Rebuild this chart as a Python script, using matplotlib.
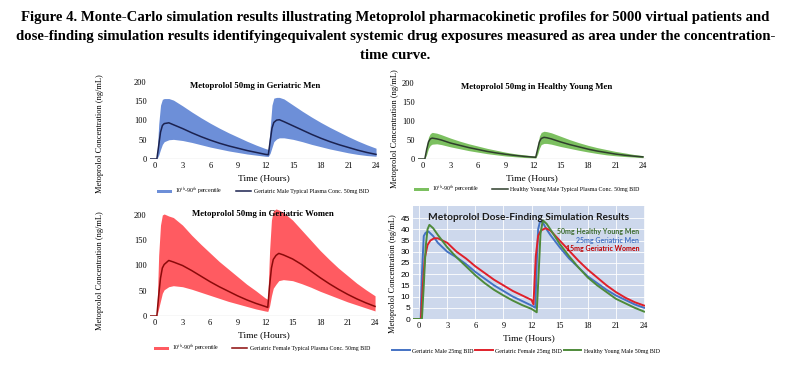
import numpy as np
import matplotlib
matplotlib.use("Agg")
import matplotlib.pyplot as plt

W, H = 791, 374

# shared time grid for the three percentile panels (hours)
t_pk = [-0.6, 0.2, 0.4, 0.6, 0.8, 1.0, 1.5, 2, 3, 4, 5, 6, 7, 8, 9, 10, 11, 12,
        12.3, 12.5, 12.7, 12.9, 13.2, 13.5, 14, 15, 16, 17, 18, 19, 20, 21, 22, 23, 24]

# geriatric men, 50mg
gm_med = [0, 0, 35, 70, 87, 92, 94, 89, 79, 68, 58, 49, 41, 34, 28, 22, 17, 12,
          11, 45, 80, 95, 101, 102, 97, 86, 75, 64, 54, 45, 37, 30, 23, 17, 12]
gm_p90 = [0, 0, 90, 140, 155, 157, 157, 153, 138, 122, 107, 93, 80, 68, 57, 46, 36, 27,
          25, 80, 140, 158, 160, 160, 156, 140, 124, 109, 95, 82, 70, 58, 47, 37, 28]
gm_p10 = [0, 0, 10, 25, 38, 45, 50, 51, 48, 43, 37, 31, 26, 21, 17, 13, 10, 7,
          6.5, 15, 30, 45, 52, 55, 55, 51, 45, 38, 32, 26, 21, 16, 12, 9, 7]

# geriatric women, 50mg
gw_med = [0, 0, 40, 75, 95, 102, 110, 107, 100, 90, 79, 68, 58, 49, 40, 32, 25, 19,
          17, 60, 95, 112, 120, 124, 121, 113, 102, 89, 76, 64, 53, 43, 34, 26, 19]
gw_p90 = [0, 0, 120, 180, 200, 202, 198, 195, 180, 160, 142, 125, 108, 93, 78, 63, 50, 36,
          33, 130, 190, 208, 212, 210, 205, 190, 170, 150, 130, 112, 95, 80, 65, 52, 40]
gw_p10 = [0, 0, 15, 30, 45, 52, 58, 60, 58, 53, 47, 41, 35, 29, 24, 19, 14, 10,
          9, 20, 40, 55, 63, 70, 72, 70, 64, 57, 49, 42, 35, 28, 22, 16, 10]

# healthy young men, 50mg
hy_med = [0, 0, 25, 45, 53, 55, 53, 50, 42, 36, 30, 25, 20, 16, 12.5, 9.5, 7, 5,
          4.5, 25, 45, 54, 57, 56, 53, 45, 38, 32, 26, 21, 17, 13, 10, 7.5, 5.5]
hy_p90 = [0, 0, 35, 58, 67, 70, 68, 64, 55, 47, 40, 34, 28, 23, 18, 14, 11, 8.5,
          8, 35, 60, 70, 73, 72, 69, 60, 51, 43, 36, 30, 25, 20, 16, 12, 9]
hy_p10 = [0, 0, 12, 28, 36, 39, 40, 38, 32, 27, 22, 18, 14, 11, 8, 6, 4, 3,
          2.5, 12, 28, 38, 41, 41, 39, 33, 28, 23, 18.5, 14.5, 11, 8.5, 6.5, 5, 3.5]

# dose-finding typical profiles
t_gm25 = [-0.65, 0.15, 0.3, 0.5, 0.7, 1.0, 1.5, 2, 3, 4, 5, 6, 7, 8, 9, 10, 11, 12,
          12.4, 12.55, 12.7, 12.9, 13.2, 13.6, 14, 15, 16, 17, 18, 19, 20, 21, 22, 23, 24]
gm25 = [0, 0, 20, 37, 38.5, 39, 37, 34, 30, 27.5, 24.5, 21, 18, 15, 12.5, 10, 8, 6,
        5, 25, 40, 43.5, 43, 40, 37.5, 32, 27, 23, 19, 16, 13, 10.5, 8.5, 6.5, 5]
t_gw15 = [-0.65, 0.2, 0.4, 0.6, 0.9, 1.2, 1.6, 2, 3, 4, 5, 6, 7, 8, 9, 10, 11, 12,
          12.2, 12.45, 12.7, 13.0, 13.5, 14, 15, 16, 17, 18, 19, 20, 21, 22, 23, 24]
gw15 = [0, 0, 15, 27, 33, 35, 36, 36, 34, 30, 27, 23.5, 20.5, 17.5, 15, 12.5, 10.5, 8.5,
        6.5, 28, 37, 39.5, 40.5, 39.5, 35, 30.5, 26, 22, 18.5, 15, 12, 9.5, 7.5, 6]
t_hy50 = [-0.65, 0.3, 0.5, 0.7, 0.9, 1.1, 1.5, 2, 3, 4, 5, 6, 7, 8, 9, 10, 11, 12,
          12.55, 12.75, 12.95, 13.2, 13.6, 14, 15, 16, 17, 18, 19, 20, 21, 22, 23, 24]
hy50 = [0, 0, 15, 32, 40, 42, 40.5, 37.5, 32, 27.5, 23.5, 19.5, 16, 13, 10.5, 8.2, 6.2, 4.5,
        3, 20, 38, 44, 42.5, 40, 33.5, 28, 23, 18.5, 15, 12, 9, 7, 5, 3.3]

x_ticks = [0, 3, 6, 9, 12, 15, 18, 21, 24]

title_lines = [
    "Figure 4. Monte-Carlo simulation results illustrating Metoprolol pharmacokinetic profiles for 5000 virtual patients and",
    "dose-finding simulation results identifyingequivalent systemic drug exposures measured as area under the concentration-",
    "time curve.",
]

plt.rcParams['mathtext.fontset'] = 'stix'
SERIF = 'Liberation Serif'
YLAB = "Metoprolol Concentration (ng/mL)"


def rect(left, right, top, bottom):
    # pixel box -> figure fraction
    return [left / W, 1 - bottom / H, (right - left) / W, (bottom - top) / H]


fig = plt.figure(figsize=(W / 100, H / 100), dpi=100)
fig.patch.set_facecolor('white')

for i, line in enumerate(title_lines):
    fig.text(0.5, 1 - (17.5 + 19 * i) / H, line, ha='center', va='center',
             fontsize=10.6, fontweight='bold', family=SERIF)


def pk_panel(pos, med, p90, p10, band_col, line_col, title, med_label,
             ylab_xy, legend_xy, title_xy):
    ax = fig.add_axes(pos)
    ax.fill_between(t_pk, p10, p90, color=band_col, lw=0,
                    label="10$^{th}$-90$^{th}$ percentile")
    ax.plot(t_pk, med, color=line_col, lw=1.1, label=med_label)
    ax.axhline(0, color='#d9d9d9', lw=1.0, zorder=0)
    ax.set_xlim(-0.6, 24.3)
    ax.set_ylim(0, 215)
    ax.set_yticks([0, 50, 100, 150, 200])
    ax.set_xticks(x_ticks)
    for s in ax.spines.values():
        s.set_visible(False)
    ax.tick_params(length=0, labelsize=6, pad=2)
    for lab in ax.get_xticklabels() + ax.get_yticklabels():
        lab.set_family(SERIF)
    ax.set_xlabel("Time (Hours)", fontsize=6.8, family=SERIF, labelpad=3)
    fig.text(ylab_xy[0] / W, 1 - ylab_xy[1] / H, YLAB, rotation=90,
             ha='center', va='center', fontsize=6, family=SERIF)
    fig.text(title_xy[0] / W, 1 - title_xy[1] / H, title, ha='center', va='center',
             fontsize=6.3, fontweight='bold', family=SERIF)
    ax.legend(loc='center', bbox_to_anchor=(legend_xy[0] / W, 1 - legend_xy[1] / H),
              bbox_transform=fig.transFigure, ncol=2, frameon=False,
              prop={'family': SERIF, 'size': 4.2}, handlelength=2.6,
              handleheight=0.6, columnspacing=2.2, handletextpad=0.5)
    return ax


pk_panel(rect(149.5, 378.8, 159 - 215 * 0.385, 159), gm_med, gm_p90, gm_p10,
         '#6d8fd8', '#1b2250', "Metoprolol 50mg in Geriatric Men",
         "Geriatric Male Typical Plasma Conc. 50mg BID", (100, 134), (263, 191), (255, 86))
pk_panel(rect(149.5, 377.8, 316 - 215 * 0.505, 316), gw_med, gw_p90, gw_p10,
         '#ff5b61', '#8b0a0a', "Metoprolol 50mg in Geriatric Women",
         "Geriatric Female Typical Plasma Conc. 50mg BID", (100, 271), (262, 348), (263, 214))
pk_panel(rect(417.5, 645.7, 159 - 215 * 0.38, 159), hy_med, hy_p90, hy_p10,
         '#7cc060', '#2f3e2c', "Metoprolol 50mg in Healthy Young Men",
         "Healthy Young Male Typical Plasma Conc. 50mg BID", (395, 129), (527, 189), (537, 87))

# dose-finding panel
ax = fig.add_axes(rect(413, 645, 206, 319))
ax.set_facecolor('#cdd8ec')
ax.plot(t_gm25, gm25, color='#4472c4', lw=1.4, label="Geriatric Male 25mg BID")
ax.plot(t_gw15, gw15, color='#e0202a', lw=1.4, label="Geriatric Female 25mg BID")
ax.plot(t_hy50, hy50, color='#4e8a3a', lw=1.4, label="Healthy Young Male 50mg BID")
ax.set_xlim(-0.65, 24.1)
ax.set_ylim(0, 50.4)
ax.set_yticks(range(0, 50, 5))
ax.set_xticks(x_ticks)
ax.grid(color='white', lw=0.6)
ax.set_axisbelow(True)
for s in ax.spines.values():
    s.set_visible(False)
ax.tick_params(length=0, labelsize=6, pad=2)
for lab in ax.get_xticklabels():
    lab.set_family(SERIF)
for lab in ax.get_yticklabels():
    lab.set_family('Liberation Sans')
ax.set_xlabel("Time (Hours)", fontsize=6.8, family=SERIF, labelpad=3)
fig.text(393 / W, 1 - 274 / H, YLAB, rotation=90,
         ha='center', va='center', fontsize=6, family=SERIF)
ax.text(0.5, 0.9, "Metoprolol Dose-Finding Simulation Results", transform=ax.transAxes,
        ha='center', va='center', fontsize=7.3, fontweight='bold', family='Lato',
        color='#1a1a1a')
for k, (txt, col) in enumerate([("50mg Healthy Young Men", '#3d6b2e'),
                                 ("25mg Geriatric Men", '#4472c4'),
                                 ("15mg Geriatric Women", '#c00000')]):
    ax.text(0.975, 0.77 - 0.075 * k, txt, transform=ax.transAxes, ha='right', va='center',
            fontsize=5, fontweight='bold', family='Lato', color=col)
ax.legend(loc='center', bbox_to_anchor=(526 / W, 1 - 351 / H), bbox_transform=fig.transFigure,
          ncol=3, frameon=False, prop={'family': SERIF, 'size': 4.2}, handlelength=3.0,
          columnspacing=0.3, handletextpad=0.4)

fig.savefig('out.png', dpi=100)
